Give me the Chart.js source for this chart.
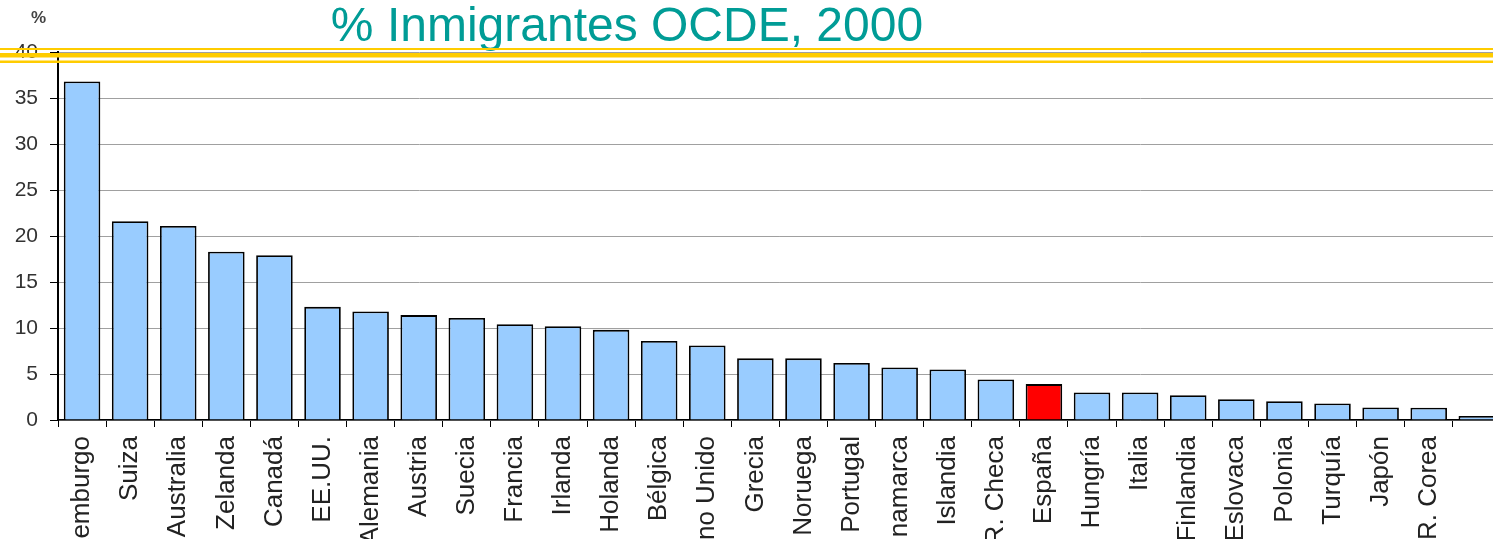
<!DOCTYPE html>
<html>
<head>
<meta charset="utf-8">
<script src="https://cdn.jsdelivr.net/npm/chart.js@4/dist/chart.umd.min.js"></script>
<style>
  body { margin: 0; overflow: hidden; background: #fff; }
  #wrap { position: absolute; left: 0; top: 0; width: 1517px; height: 539px; }
</style>
</head>
<body>
<div id="wrap"><canvas id="myBarChart"></canvas></div>
<script>
// el último país queda cortado en el borde derecho y su etiqueta no se ve
var paises = ['Luxemburgo', 'Suiza', 'Australia', 'N. Zelanda', 'Canadá', 'EE.UU.', 'Alemania', 'Austria',
    'Suecia', 'Francia', 'Irlanda', 'Holanda', 'Bélgica', 'Reino Unido', 'Grecia', 'Noruega', 'Portugal',
    'Dinamarca', 'Islandia', 'R. Checa', 'España', 'Hungría', 'Italia', 'Finlandia', 'R. Eslovaca',
    'Polonia', 'Turquía', 'Japón', 'R. Corea', ''];
var inmigrantes = [36.8, 21.6, 21.1, 18.3, 17.9, 12.3, 11.8, 11.4, 11.1, 10.4, 10.2, 9.8, 8.6, 8.1, 6.7,
    6.7, 6.2, 5.7, 5.5, 4.4, 3.9, 3.0, 3.0, 2.7, 2.25, 2.05, 1.8, 1.37, 1.33, 0.43];
var yTicks = [0, 5, 10, 15, 20, 25, 30, 35, 40];

var colores = paises.map(function (p) { return p === 'España' ? '#ff0000' : '#99ccff'; });

var extras = {
    id: 'extras',
    afterDraw: function (chart) {
        var ctx = chart.ctx;
        ctx.save();
        ctx.fillStyle = '#009c96';
        ctx.font = '48px Arial, "Liberation Sans", sans-serif';
        ctx.textAlign = 'center';
        ctx.textBaseline = 'alphabetic';
        ctx.fillText('% Inmigrantes OCDE, 2000', 627, 41);

        ctx.fillStyle = '#444';
        ctx.font = 'bold 17px Arial, "Liberation Sans", sans-serif';
        ctx.textAlign = 'left';
        ctx.fillText('%', 31, 23);

        // doble línea amarilla
        ctx.fillStyle = '#ffcc00';
        ctx.fillRect(0, 48, chart.width, 2);
        ctx.fillRect(0, 53, chart.width, 4.5);
        ctx.fillRect(0, 60.5, chart.width, 2.5);
        ctx.restore();
    }
};

var ctx = document.getElementById('myBarChart').getContext('2d');
var myBarChart = new Chart(ctx, {
    type: 'bar',
    data: {
        labels: paises,
        datasets: [{
            data: inmigrantes,
            backgroundColor: colores,
            borderColor: '#000',
            borderWidth: 1.8,
            barPercentage: 0.76,
            categoryPercentage: 1
        }]
    },
    options: {
        responsive: true,
        maintainAspectRatio: false,
        animation: false,
        layout: { padding: { top: 52, left: 0, right: 0, bottom: 0 } },
        plugins: {
            legend: { display: false },
            tooltip: { enabled: false }
        },
        scales: {
            x: {
                afterFit: function (s) { s.height = 119; },
                grid: { drawOnChartArea: false, tickLength: 7, tickColor: '#000', offset: true },
                border: { color: '#000', width: 1.5 },
                ticks: {
                    autoSkip: false,
                    minRotation: 90,
                    maxRotation: 90,
                    padding: 9,
                    color: '#222',
                    font: { family: 'Arial, "Liberation Sans", sans-serif', size: 26 }
                }
            },
            y: {
                min: 0,
                max: 40,
                afterFit: function (s) { s.width = 58; },
                afterBuildTicks: function (s) { s.ticks = yTicks.map(function (v) { return { value: v }; }); },
                grid: { color: '#a0a0a0', lineWidth: 1, tickLength: 8, tickColor: '#000' },
                border: { color: '#000', width: 2 },
                ticks: {
                    padding: 12,
                    color: '#333',
                    font: { family: 'Arial, "Liberation Sans", sans-serif', size: 21 }
                }
            }
        }
    },
    plugins: [extras]
});
</script>
</body>
</html>
